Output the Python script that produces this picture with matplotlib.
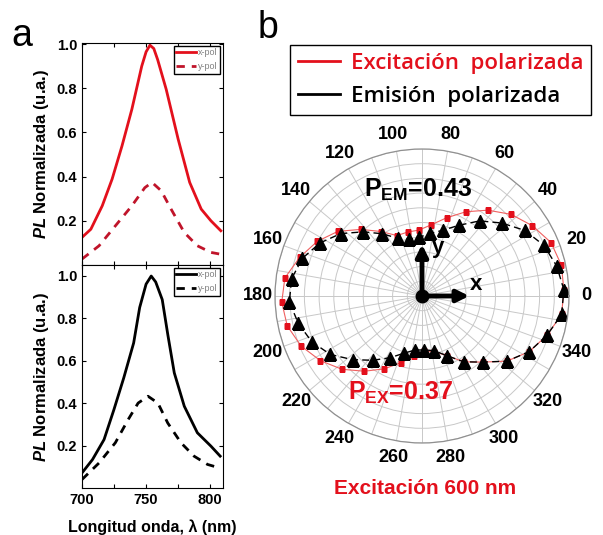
import numpy as np
import matplotlib.pyplot as plt
from matplotlib.lines import Line2D

plt.rcParams['font.family'] = ['Liberation Sans', 'DejaVu Sans']
plt.rcParams['font.weight'] = 'bold'
plt.rcParams['mathtext.fontset'] = 'custom'
plt.rcParams['mathtext.rm'] = 'Liberation Sans:bold'
plt.rcParams['mathtext.bf'] = 'Liberation Sans:bold'
plt.rcParams['mathtext.it'] = 'Liberation Sans:italic:bold'
plt.rcParams['mathtext.bfit'] = 'Liberation Sans:italic:bold'

RED = '#e3101c'

# Panel a: PL spectra
wl_xpol_red = [700, 706.9, 715.8, 723.5, 731.2, 738.9, 746.6, 750, 753, 756, 759, 765.7, 775, 784, 793, 800.6, 808.3]
pl_xpol_red = [0.125, 0.162, 0.268, 0.389, 0.539, 0.705, 0.90, 0.965, 0.995, 0.98, 0.93, 0.795, 0.57, 0.374, 0.253, 0.20, 0.155]
wl_ypol_red = [700, 713.3, 726, 738.9, 749, 754.6, 761.8, 769.5, 779.8, 790, 800.6, 807]
pl_ypol_red = [0.027, 0.087, 0.177, 0.268, 0.35, 0.374, 0.336, 0.253, 0.147, 0.087, 0.057, 0.05]

wl_xpol_blk = [700, 708.2, 717.2, 724.9, 732.6, 740.3, 745, 750, 754, 757.5, 762.6, 767, 772, 779.8, 790, 800.6, 807.8]
pl_xpol_blk = [0.071, 0.134, 0.228, 0.369, 0.519, 0.683, 0.85, 0.96, 0.998, 0.97, 0.887, 0.72, 0.542, 0.385, 0.26, 0.197, 0.15]
wl_ypol_blk = [700, 713.3, 726, 736, 743.8, 751.5, 759.2, 766.9, 777.2, 787.4, 797.9, 807]
pl_ypol_blk = [0.04, 0.118, 0.213, 0.322, 0.40, 0.432, 0.40, 0.306, 0.213, 0.15, 0.111, 0.095]

# Panel b: polar data (angle in degrees, normalised intensity)
ang_deg = [2.5, 12.5, 22.5, 32.5, 42.5, 52.5, 62.5, 72.5, 82.5, 92.5, 102.5, 112.5,
           122.5, 132.5, 142.5, 152.5, 162.5, 172.5, 182.5, 192.5, 202.5, 212.5, 222.5, 232.5,
           242.5, 252.5, 262.5, 272.5, 282.5, 292.5, 302.5, 312.5, 322.5, 332.5, 342.5, 352.5]
r_emis = [0.966, 0.939, 0.898, 0.830, 0.735, 0.644, 0.542, 0.469, 0.429, 0.401, 0.395, 0.424,
          0.502, 0.592, 0.697, 0.782, 0.853, 0.895, 0.903, 0.862, 0.812, 0.740, 0.641, 0.551,
          0.474, 0.408, 0.371, 0.367, 0.381, 0.439, 0.531, 0.610, 0.728, 0.821, 0.891, 0.958]
r_exc = [0.966, 0.971, 0.950, 0.890, 0.822, 0.736, 0.646, 0.558, 0.489, 0.449, 0.446, 0.445,
         0.520, 0.615, 0.722, 0.804, 0.873, 0.941, 0.955, 0.939, 0.890, 0.819, 0.738, 0.645,
         0.559, 0.476, 0.412, 0.374, 0.388, 0.439, 0.531, 0.610, 0.728, 0.821, 0.891, 0.958]
theta_ticks = list(range(0, 360, 10))
theta_labels = [str(a) if a % 20 == 0 else '' for a in theta_ticks]

W, H = 603, 535
fig = plt.figure(figsize=(W / 100, H / 100), dpi=100)

def fx(px):
    return px / W

def fy(py):
    return 1 - py / H

def style_spec_axes(ax, ylim):
    ax.set_xlim(700, 810)
    ax.set_ylim(*ylim)
    ax.set_yticks([0.2, 0.4, 0.6, 0.8, 1.0])
    ax.set_xticks([700, 725, 750, 775, 800])
    ax.tick_params(direction='in', top=True, right=True, labelsize=10.5, length=3, width=0.8)
    ax.set_ylabel(r'$\mathbfit{PL}$ Normalizada (u.a.)', fontsize=12, fontweight='bold', labelpad=4)
    for s in ax.spines.values():
        s.set_linewidth(0.8)

def small_legend(ax):
    lg = ax.legend(loc='upper right', fontsize=6.5, handlelength=2.2, borderpad=0.3,
                   labelspacing=0.5, fancybox=False, edgecolor='black', framealpha=1,
                   borderaxespad=0.3, handletextpad=0.2)
    for t in lg.get_texts():
        t.set_color('gray')
        t.set_fontweight('normal')

ax1 = fig.add_axes([fx(82), fy(265), fx(223) - fx(82), fy(43) - fy(265)])
ax1.plot(wl_xpol_red, pl_xpol_red, color=RED, lw=2, label='x-pol', solid_joinstyle='round')
ax1.plot(wl_ypol_red, pl_ypol_red, color='#c0142a', lw=2, ls=(0, (3, 2.5)), label='y-pol')
style_spec_axes(ax1, (0, 1.005))
ax1.set_xticklabels([])
small_legend(ax1)

ax2 = fig.add_axes([fx(82), fy(488), fx(223) - fx(82), fy(265) - fy(488)])
ax2.plot(wl_xpol_blk, pl_xpol_blk, color='black', lw=2, label='x-pol', solid_joinstyle='round')
ax2.plot(wl_ypol_blk, pl_ypol_blk, color='black', lw=2, ls=(0, (3, 2.5)), label='y-pol')
style_spec_axes(ax2, (0, 1.05))
ax2.set_xticklabels(['700', '', '750', '', '800'])
ax2.set_xlabel('Longitud onda, λ (nm)', fontsize=11.5, fontweight='bold', labelpad=9)
small_legend(ax2)

# Panel b: polar plot
axp = fig.add_axes([fx(275), fy(443), fx(569) - fx(275), fy(149) - fy(443)], projection='polar')
th = np.radians(ang_deg)
th_c = np.append(th, th[0])
axp.plot(th_c, np.append(r_exc, r_exc[0]), color='#f06060', lw=0.8)
axp.plot(th, r_exc, 's', color=RED, ms=4.5, mec='none')
axp.plot(th_c, np.append(r_emis, r_emis[0]), color='black', lw=1, ls=(0, (5, 3)))
axp.plot(th, r_emis, '^', color='black', ms=9, mec='black')
axp.set_ylim(0, 1)
axp.set_yticks(np.arange(0.1, 1.01, 0.1))
axp.set_yticklabels([])
axp.set_thetagrids(theta_ticks, theta_labels)
axp.tick_params(axis='x', labelsize=13, pad=2)
axp.grid(color='#c8c8c8', lw=0.7)
axp.spines['polar'].set_color('#909090')
axp.spines['polar'].set_linewidth(0.9)

# axes arrows and centre dot
axp.annotate('', xy=(np.pi / 2, 0.37), xytext=(np.pi / 2, 0.0),
             arrowprops=dict(arrowstyle='-|>,head_width=0.35,head_length=0.7', color='black', lw=3.5))
axp.annotate('', xy=(0, 0.34), xytext=(0, 0.0),
             arrowprops=dict(arrowstyle='-|>,head_width=0.35,head_length=0.7', color='black', lw=3.5))
axp.plot([0], [0], 'o', color='black', ms=9)

fig.text(fx(438), fy(247), 'y', fontsize=16, fontweight='bold', ha='center', va='center')
fig.text(fx(476), fy(284), 'x', fontsize=16, fontweight='bold', ha='center', va='center')
fig.text(fx(418), fy(190), r'P$_{\mathrm{EM}}$=0.43', fontsize=18, fontweight='bold', ha='center', va='center')
fig.text(fx(401), fy(393), r'P$_{\mathrm{EX}}$=0.37', fontsize=18, fontweight='bold', color=RED, ha='center', va='center')
fig.text(fx(425), fy(488), 'Excitación 600 nm', fontsize=15, fontweight='bold', color=RED, ha='center', va='center')

handles = [Line2D([], [], color=RED, lw=2), Line2D([], [], color='black', lw=2)]
leg = fig.legend(handles, ['Excitación  polarizada', 'Emisión  polarizada'],
                 loc='upper left', bbox_to_anchor=(fx(290), fy(45)),
                 prop={'family': 'Open Sans', 'size': 16, 'weight': 'semibold'}, fancybox=False,
                 edgecolor='black', framealpha=1, handlelength=1.9, borderpad=0.35,
                 labelspacing=0.55, handletextpad=0.5, borderaxespad=0)
leg.get_frame().set_linewidth(1.0)
leg.get_texts()[0].set_color(RED)

fig.text(fx(22), fy(36), 'a', fontsize=27, ha='center', va='center', fontweight='normal')
fig.text(fx(268), fy(28), 'b', fontsize=27, ha='center', va='center', fontweight='normal')

fig.savefig('out.png', dpi=100)
